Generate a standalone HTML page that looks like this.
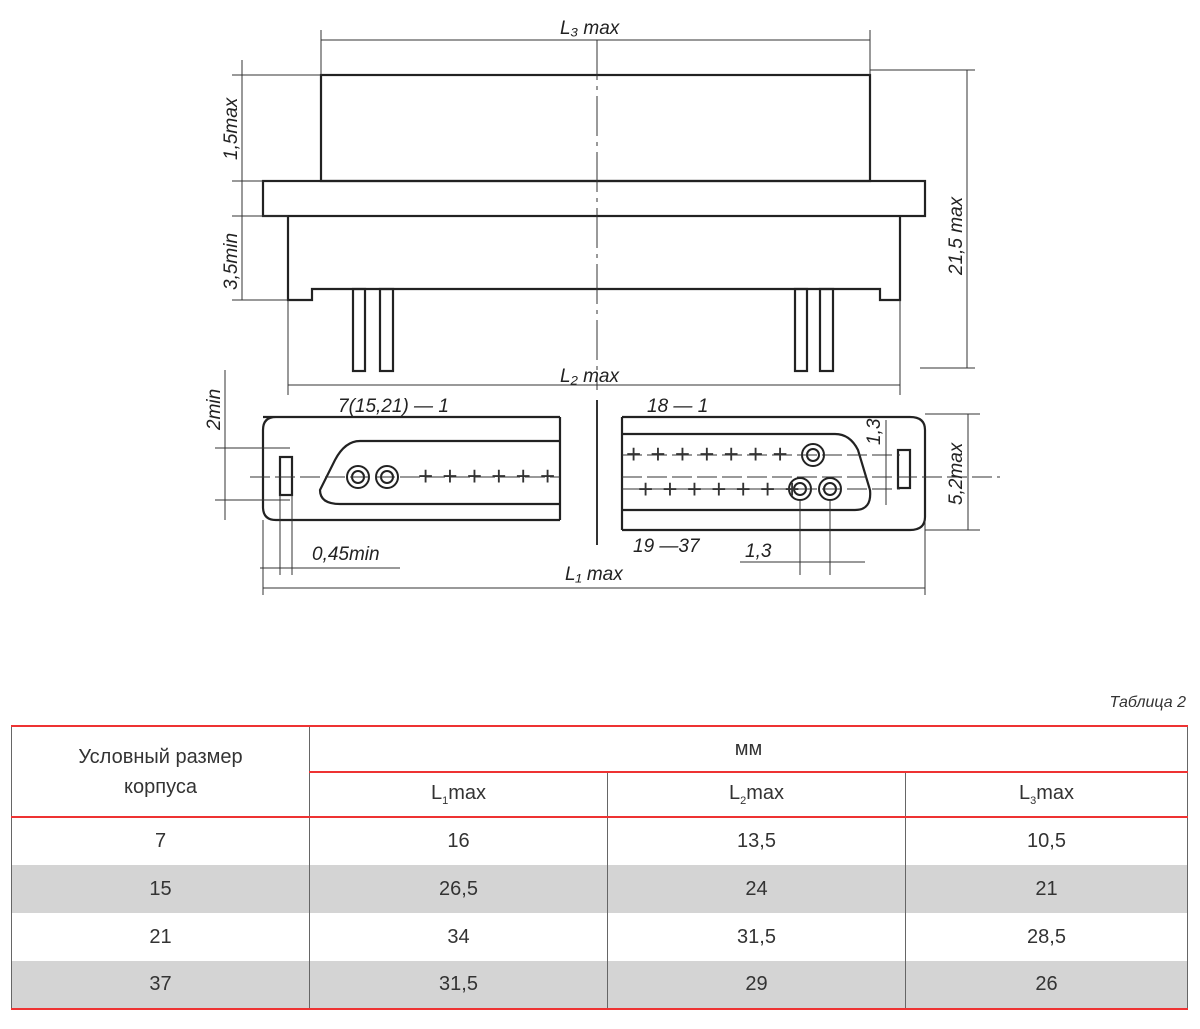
<!DOCTYPE html>
<html><head><meta charset="utf-8"><style>
body{margin:0;width:1200px;height:1029px;background:#fff;overflow:hidden;position:relative;font-family:"Liberation Sans",sans-serif}
svg{position:absolute;left:0;top:0}
.t{font-family:"Liberation Sans",sans-serif;font-style:italic;font-size:19px;fill:#222}
table{position:absolute;left:11px;top:725px;width:1177px;border-collapse:collapse;font-size:20px;color:#333}
td{text-align:center;padding:0;border-left:1px solid #666;border-right:1px solid #666}
.cap{position:absolute;right:14px;top:694px;font-style:italic;font-size:16px;color:#333}
</style></head><body>
<svg width="1200" height="680" viewBox="0 0 1200 680">
<g fill="none" stroke="#222" stroke-width="2.2">
<rect x="321" y="75" width="549" height="106"/>
<rect x="263" y="181" width="662" height="35"/>
<path d="M288 216 V300 H312 V289 H880 V300 H900 V216"/>
<rect x="353" y="289" width="12" height="82"/><rect x="380" y="289" width="13" height="82"/>
<rect x="795" y="289" width="12" height="82"/><rect x="820" y="289" width="13" height="82"/>
<path d="M263 417 H560 M263 430 Q263 417 276 417 M263 430 V507 Q263 520 276 520 H560 M560 417 V520"/>
<path d="M360 441 H560 M360 441 Q345 441 335 460 L320 490 Q320 504 340 504 H560"/>
<rect x="280" y="457" width="12" height="38"/>
<path d="M622 417 H910 Q925 417 925 430 V517 Q925 530 910 530 H622 M622 417 V530"/>
<path d="M622 434 H835 Q850 434 858 450 L870 490 Q872 510 855 510 H622"/>
<rect x="898" y="450" width="12" height="38"/>
</g>
<g fill="none" stroke="#222" stroke-width="2">
<circle cx="358" cy="477" r="11"/><circle cx="358" cy="477" r="6"/>
<circle cx="387" cy="477" r="11"/><circle cx="387" cy="477" r="6"/>
<circle cx="813" cy="455" r="11"/><circle cx="813" cy="455" r="6"/>
<circle cx="800" cy="489" r="11"/><circle cx="800" cy="489" r="6"/>
<circle cx="830" cy="489" r="11"/><circle cx="830" cy="489" r="6"/>
</g>
<g stroke="#333" stroke-width="1" fill="none">
<path d="M597 40 V390" stroke-dasharray="40 6 4 6"/>
<path d="M321 30 V75 M870 30 V75 M321 40 H870"/>
<path d="M870 70 H975 M920 368 H975 M967 70 V368"/>
<path d="M232 75 H321 M232 181 H263 M232 216 H288 M232 300 H288 M242 60 V300"/>
<path d="M288 300 V395 M900 300 V395 M288 385 H900"/>
<path d="M215 448 H290 M215 500 H290 M225 370 V520" />
<path d="M250 477 H560 M622 477 H1000 M622 455 H900 M622 489 H900" stroke-dasharray="20 5"/>
<path d="M263 520 V595 M280 495 V575 M292 495 V575 M260 568 H400 M925 520 V595 M263 588 H925"/>
<path d="M925 414 H980 M925 530 H980 M968 414 V530 M886 420 V505"/>
<path d="M800 500 V575 M830 500 V575 M780 562 H865 M740 562 H800"/>
<path d="M597 400 V545" stroke-width="2"/>
</g>
<g font-size="26" fill="#333" font-family="Liberation Sans" letter-spacing="1">
<text x="418" y="485">+ + + + + +</text>
<text x="626" y="463">+ + + + + + +</text>
<text x="638" y="498">+ + + + + + +</text>
</g>
<text class="t" x="560" y="34">L₃ max</text>
<text class="t" x="560" y="382">L₂ max</text>
<text class="t" x="565" y="580">L₁ max</text>
<text class="t" x="338" y="412">7(15,21)  —  1</text>
<text class="t" x="647" y="412">18  —  1</text>
<text class="t" x="633" y="552">19  —37</text>
<text class="t" x="745" y="557">1,3</text>
<text class="t" x="312" y="560">0,45min</text>
<text class="t" transform="translate(237,160) rotate(-90)">1,5max</text>
<text class="t" transform="translate(237,290) rotate(-90)">3,5min</text>
<text class="t" transform="translate(220,430) rotate(-90)">2min</text>
<text class="t" transform="translate(962,275) rotate(-90)">21,5 max</text>
<text class="t" transform="translate(962,505) rotate(-90)">5,2max</text>
<text class="t" transform="translate(880,445) rotate(-90)">1,3</text>
</svg>
<div class="cap">Таблица 2</div>
<table>
<tr style="height:46px;border-top:2px solid #e33"><td rowspan="2" style="width:297px;border-bottom:2px solid #e33;line-height:30px">Условный размер<br>корпуса</td><td colspan="3" style="border-bottom:2px solid #e33">мм</td></tr>
<tr style="height:45px;border-bottom:2px solid #e33"><td style="width:297px">L<sub style="font-size:11px">1</sub>max</td><td style="width:297px">L<sub style="font-size:11px">2</sub>max</td><td>L<sub style="font-size:11px">3</sub>max</td></tr>
<tr style="height:48px"><td>7</td><td>16</td><td>13,5</td><td>10,5</td></tr>
<tr style="height:48px;background:#d4d4d4"><td>15</td><td>26,5</td><td>24</td><td>21</td></tr>
<tr style="height:48px"><td>21</td><td>34</td><td>31,5</td><td>28,5</td></tr>
<tr style="height:48px;background:#d4d4d4;border-bottom:2px solid #e33"><td>37</td><td>31,5</td><td>29</td><td>26</td></tr>
</table>
</body></html>
